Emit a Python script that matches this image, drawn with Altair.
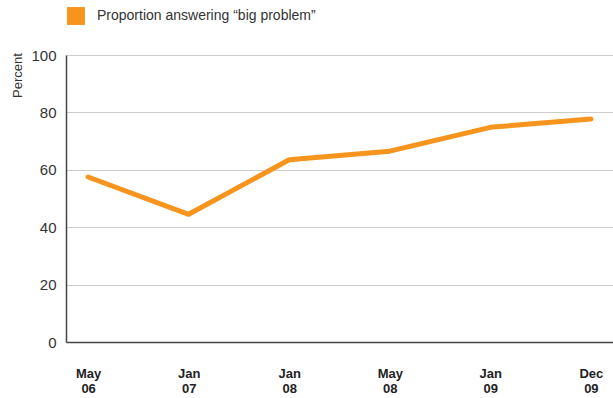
import altair as alt
import pandas as pd

periods = ["May 06", "Jan 07", "Jan 08", "May 08", "Jan 09", "Dec 09"]
values = [57.5, 44.5, 63.5, 66.5, 74.8, 77.7]
series = "Proportion answering \u201cbig problem\u201d"

df = pd.DataFrame({"period": periods, "value": values, "series": [series] * len(periods)})

FONT = "Liberation Sans, Arial, sans-serif"

chart = alt.Chart(df).mark_line(strokeWidth=5, strokeCap="round", strokeJoin="round").encode(
    x=alt.X("period:O", sort=periods, scale=alt.Scale(type="point", padding=0.22),
            axis=alt.Axis(title=None, labelAngle=0, labelExpr="split(datum.label, ' ')",
                          labelFont=FONT, labelFontWeight="bold", labelFontSize=13,
                          labelColor="#222222", labelPadding=25, labelBaseline="top",
                          labelLineHeight=15, ticks=False, domainColor="#444444",
                          domainWidth=1.5, grid=False)),
    y=alt.Y("value:Q", scale=alt.Scale(domain=[0, 100]),
            axis=alt.Axis(values=[0, 20, 40, 60, 80, 100], title="Percent",
                          titleFont=FONT, titleFontWeight="normal", titleFontSize=13,
                          titleColor="#333333", titleAngle=270, titleX=-49, titleY=20,
                          titleAlign="center", titleBaseline="middle",
                          labelFont=FONT, labelFontSize=15, labelColor="#333333",
                          labelPadding=10, ticks=False, domainColor="#444444",
                          domainWidth=1.5, gridColor="#cccccc", gridWidth=1)),
    color=alt.Color("series:N", scale=alt.Scale(range=["#F7941D"]),
                    legend=alt.Legend(title=None, orient="none", legendX=1, legendY=-48,
                                      symbolType="square", symbolSize=320,
                                      symbolFillColor="#F7941D", symbolStrokeWidth=0,
                                      labelFont=FONT, labelFontSize=14, labelColor="#333333",
                                      labelOffset=12, labelLimit=500)),
).properties(
    width=547, height=287,
    autosize="none",
    padding={"left": 66, "top": 55, "right": 0, "bottom": 56},
).configure_view(stroke=None)

chart.save("out.html", embed_options={"renderer": "svg", "actions": False})
